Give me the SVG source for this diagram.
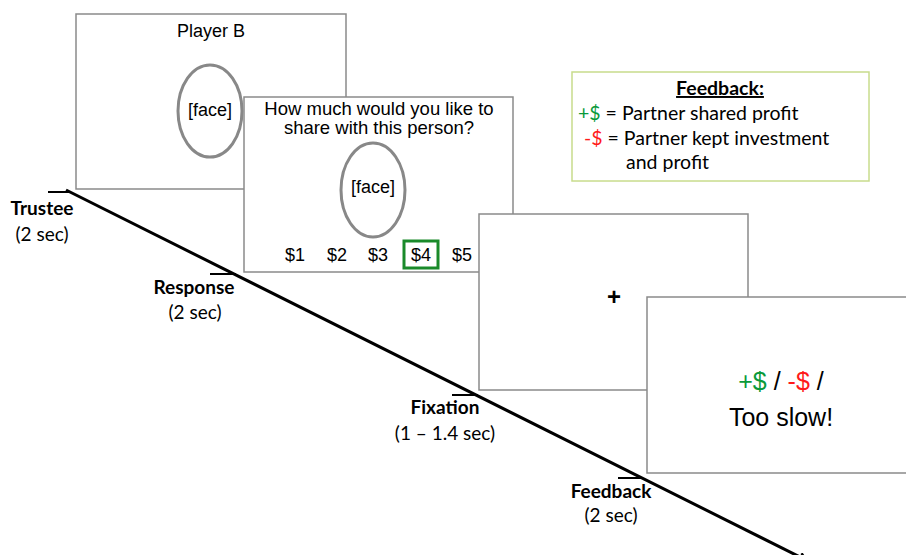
<svg xmlns="http://www.w3.org/2000/svg" width="906" height="555" viewBox="0 0 906 555">
<style>
.scr{fill:#fff;stroke:#8a8a8a;stroke-width:1.5}
.face{fill:none;stroke:#888;stroke-width:3}
.ar{font-family:"Liberation Sans",Arial,sans-serif;fill:#000}
.cal{font-family:Lato,"Open Sans",sans-serif;fill:#000}
.lab{font-family:Lato,"Open Sans",sans-serif;font-size:19px;fill:#000;text-anchor:middle}
.b{font-weight:bold}
.tick{stroke:#000;stroke-width:2}
.grn{fill:#0a9a3a}
.red{fill:#ff1a1a}
</style>
<defs>
<marker id="arr" markerWidth="10" markerHeight="10" refX="8" refY="5" orient="auto" markerUnits="userSpaceOnUse">
<path d="M1,1 L8,5 L1,9" fill="none" stroke="#000" stroke-width="2.5"/>
</marker>
</defs>
<rect width="906" height="555" fill="#fff"/>
<g id="screen-trustee">
<rect class="scr" x="76" y="14" width="270" height="175"/>
<text class="ar" x="211" y="37" font-size="18" text-anchor="middle">Player B</text>
<ellipse class="face" cx="210" cy="111" rx="32" ry="46"/>
<text class="ar" x="210" y="116" font-size="18" text-anchor="middle">[face]</text>
</g>
<g id="screen-response">
<rect class="scr" x="244" y="97" width="269" height="175"/>
<text class="ar" x="379" y="115" font-size="18.5" text-anchor="middle">How much would you like to</text>
<text class="ar" x="379" y="134" font-size="18.5" text-anchor="middle">share with this person?</text>
<ellipse class="face" cx="373" cy="190" rx="32" ry="47"/>
<text class="ar" x="373" y="193" font-size="18" text-anchor="middle">[face]</text>
<rect x="404" y="241" width="34" height="27" fill="none" stroke="#1a8a2a" stroke-width="3"/>
<g class="ar" font-size="18" text-anchor="middle">
<text x="295" y="261">$1</text>
<text x="337" y="261">$2</text>
<text x="378" y="261">$3</text>
<text x="421" y="261">$4</text>
<text x="462" y="261">$5</text>
</g>
</g>
<g id="screen-fixation">
<rect class="scr" x="479" y="214" width="269" height="176"/>
<text class="ar b" x="614" y="305" font-size="24" text-anchor="middle">+</text>
</g>
<g id="screen-feedback">
<rect class="scr" x="647" y="297" width="270" height="176"/>
<text class="ar" x="781" y="390" font-size="25" text-anchor="middle"><tspan class="grn">+$</tspan> / <tspan class="red">-$</tspan> /</text>
<text class="ar" x="781" y="426" font-size="25" text-anchor="middle">Too slow!</text>
</g>
<g id="legend">
<rect x="572" y="72" width="297" height="109" fill="#fff" stroke="#c8dc8c" stroke-width="1.5"/>
<text class="cal b" x="720" y="95" font-size="19.5" text-anchor="middle" text-decoration="underline">Feedback:</text>
<text class="cal" x="578" y="120" font-size="19.5"><tspan class="grn">+$</tspan> = Partner shared profit</text>
<text class="cal" x="584" y="145" font-size="19.5"><tspan class="red">-$</tspan> = Partner kept investment</text>
<text class="cal" x="626" y="169" font-size="19.5">and profit</text>
</g>
<g id="connectors">
<line x1="66" y1="190" x2="806" y2="560" stroke="#000" stroke-width="3" marker-end="url(#arr)"/>
<line class="tick" x1="48" y1="192" x2="70" y2="192"/>
<line class="tick" x1="210" y1="274" x2="236" y2="274"/>
<line class="tick" x1="452" y1="395" x2="478" y2="395"/>
<line class="tick" x1="618" y1="478" x2="643" y2="478"/>
</g>
<g id="labels">
<text class="lab b" x="42" y="215">Trustee</text>
<text class="lab" x="42" y="241">(2 sec)</text>
<text class="lab b" x="194" y="294">Response</text>
<text class="lab" x="195" y="319">(2 sec)</text>
<text class="lab b" x="445" y="414">Fixation</text>
<text class="lab" x="445" y="440">(1 – 1.4 sec)</text>
<text class="lab b" x="611" y="498">Feedback</text>
<text class="lab" x="611" y="522">(2 sec)</text>
</g>
</svg>
